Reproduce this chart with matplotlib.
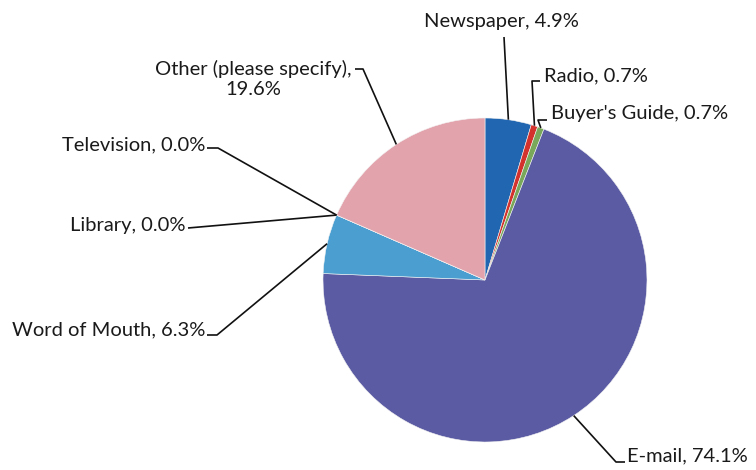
import numpy as np
import matplotlib
matplotlib.use("Agg")
import matplotlib.pyplot as plt

# Source of information (survey)
categories = ["Newspaper", "Radio", "Buyer's Guide", "E-mail",
              "Word of Mouth", "Library", "Television", "Other (please specify)"]
values = [4.9, 0.7, 0.7, 74.1, 6.3, 0.0, 0.0, 19.6]
colors = ["#2166b0", "#d4322c", "#7aa85a", "#5b5ba3",
          "#4a9fd0", "#4a9fd0", "#4a9fd0", "#e2a3ad"]

W, H = 756, 470
CX, CY, R = 485, H - 280, 162

plt.rcParams["font.family"] = ["Lato", "DejaVu Sans"]

fig = plt.figure(figsize=(W / 100, H / 100), dpi=100)
ax = fig.add_axes([0, 0, 1, 1])

wedges, _ = ax.pie(values, colors=colors, startangle=90, counterclock=False,
                   center=(CX, CY), radius=R,
                   wedgeprops=dict(linewidth=0.4, edgecolor="#f4f4f4"))
ax.set_xlim(0, W)
ax.set_ylim(0, H)
ax.set_aspect("equal")
ax.axis("off")


def edge(w):
    a = np.deg2rad((w.theta1 + w.theta2) / 2)
    return CX + R * np.cos(a), CY + R * np.sin(a)


# label layout: (text x, text y, ha, leader path start points) in pixel coords (top-left origin)
layout = {
    "Newspaper": (501, 22, "center", [(504, 37)]),
    "Radio": (544, 76, "left", [(540, 81), (532, 81)]),
    "Buyer's Guide": (551, 114, "left", [(547, 120), (538, 120)]),
    "E-mail": (627, 456, "left", [(625, 462), (616, 462)]),
    "Word of Mouth": (205, 330, "right", [(207, 335), (217, 335)]),
    "Library": (186, 225, "right", [(188, 228)]),
    "Television": (205, 145, "right", [(207, 148), (218, 148)]),
    "Other (please specify)": (253, 79, "center", [(355, 69), (363, 69)]),
}

for w, cat, v in zip(wedges, categories, values):
    tx, ty, ha, pts = layout[cat]
    if cat.startswith("Other"):
        txt = f"{cat},\n{v:.1f}%"
    else:
        txt = f"{cat}, {v:.1f}%"
    ax.text(tx, H - ty, txt, ha=ha, va="center", ma="center", fontsize=14.5,
            color="#1a1a1a", linespacing=1.2)
    ex, ey = edge(w)
    xs = [p[0] for p in pts] + [ex]
    ys = [H - p[1] for p in pts] + [ey]
    ax.plot(xs, ys, color="#111111", linewidth=1.2, solid_capstyle="butt")

fig.savefig("out.png", dpi=100, facecolor="white")
